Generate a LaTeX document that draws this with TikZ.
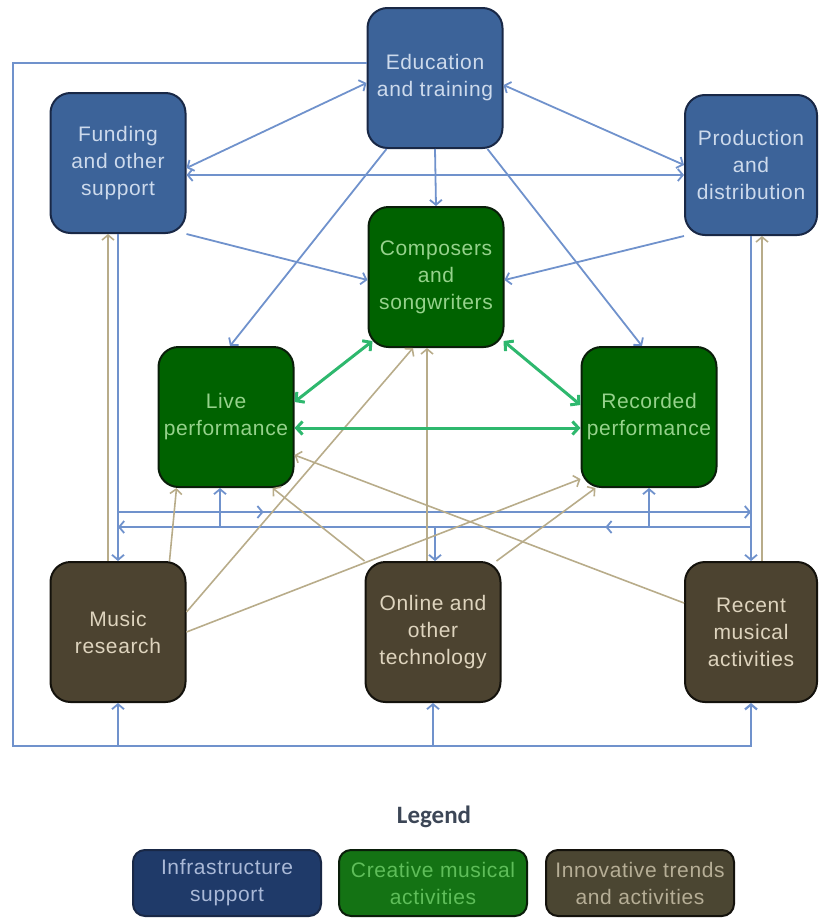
\documentclass[tikz,border=0pt]{standalone}
\usepackage{fontspec}
\setmainfont{Liberation Sans}[LetterSpace=3]
\newfontfamily\keyfont{Carlito}
\usetikzlibrary{arrows.meta,decorations.markings}
\definecolor{infline}{RGB}{112,146,204}
\definecolor{trdline}{RGB}{184,172,138}
\definecolor{creline}{RGB}{46,184,110}
\definecolor{inffill}{RGB}{60,99,153}
\definecolor{infdraw}{RGB}{25,40,70}
\definecolor{inftext}{RGB}{205,218,236}
\definecolor{crefill}{RGB}{0,98,0}
\definecolor{credraw}{RGB}{10,30,10}
\definecolor{cretext}{RGB}{150,210,140}
\definecolor{trdfill}{RGB}{76,67,48}
\definecolor{trddraw}{RGB}{20,18,12}
\definecolor{trdtext}{RGB}{222,212,190}

\begin{document}
\begin{tikzpicture}[x=1pt,y=-1pt,>={Straight Barb[length=5pt,width=12pt]},
  box/.style={draw,line width=2pt,rounded corners=20pt,minimum width=135pt,
    minimum height=140pt,align=center,font=\fontsize{21}{27}\selectfont},
  infbox/.style={box,fill=inffill,draw=infdraw,text=inftext},
  crebox/.style={box,fill=crefill,draw=credraw,text=cretext},
  trdbox/.style={box,fill=trdfill,draw=trddraw,text=trdtext},
  keybox/.style={box,rounded corners=12pt,minimum width=188pt,minimum height=66pt},
  infra/.style={draw=infline,line width=1.8pt},
  trend/.style={draw=trdline,line width=1.6pt},
  creative/.style={draw=creline,line width=3pt,
    arrows={Straight Barb[length=6pt,width=13pt]-Straight Barb[length=6pt,width=13pt]}},
  flow/.style={postaction=decorate,decoration={
      markings,mark=at position .23 with {\arrow{#1}}
    }}]
  \useasboundingbox (0,0) rectangle (819,918);
  \node[infbox] (edu) at (435,78) {Education\\and training};
  \node[infbox] (fund) at (118,163) {Funding\\and other\\support};
  \node[infbox,minimum width=132pt] (prod) at (751,165) {Production\\and\\distribution};
  \node[crebox] (comp) at (436,277) {Composers\\and\\songwriters};
  \node[crebox] (live) at (226,417) {Live\\performance};
  \node[crebox] (rec) at (649,417) {Recorded\\performance};
  \node[trdbox] (res) at (118,632) {Music\\research};
  \node[trdbox] (onl) at (433,632) {Online and\\other\\technology};
  \node[trdbox,minimum width=132pt] (rcnt) at (751,632) {Recent\\musical\\activities};
  % infrastructure links
  \coordinate (frameL) at (13,746);
  \draw[infra,line width=2.2pt,->] ([yshift=15pt]edu.west) -| (frameL) -| (rcnt.south);
  \draw[infra,->] (res.south |- frameL) -- (res.south);
  \draw[infra,->] (onl.south |- frameL) -- (onl.south);
  \draw[infra,<->] ([yshift=-5pt]fund.east) -- ([yshift=-5pt]edu.west);
  \draw[infra,<->] ([yshift=-12pt]fund.east) -- ([yshift=-12pt]fund.east -| prod.west);
  \draw[infra,<->] ([yshift=-7pt]edu.east) -- (prod.west);
  \draw[infra,->] (edu.south) -- (comp.north);
  \draw[infra,->] ([xshift=20pt]edu.south west) -- ([xshift=4pt]live.north);
  \draw[infra,->] ([xshift=-16pt]edu.south east) -- ([xshift=-7pt]rec.north);
  \draw[infra,->] (fund.south east) -- ([yshift=-3pt]comp.west);
  \draw[infra,->] (prod.south west) -- ([yshift=-3pt]comp.east);
  \draw[infra,->] (fund.south) -- (res.north);
  \draw[infra,->] (prod.south) -- (prod.south |- rcnt.north);
  \coordinate (upL) at (118,512);
  \coordinate (upR) at (751,512);
  \coordinate (loL) at (118,527);
  \coordinate (loR) at (751,527);
  \draw[infra,->,flow=>] (upL) -- (upR);
  \draw[infra,->,flow=>] (loR) -- (loL);
  \draw[infra,->] ([xshift=-6pt]live.south |- loL) -- ([xshift=-6pt]live.south);
  \draw[infra,->] (rec.south |- loL) -- (rec.south);
  \draw[infra,->] ([xshift=2pt]onl.north |- loL) -- ([xshift=2pt]onl.north);
  % trends
  \draw[trend,->] ([xshift=-10pt]res.north) -- ([xshift=-10pt]fund.south);
  \draw[trend,->] ([xshift=11pt]rcnt.north) -- ([xshift=11pt]rcnt.north |- prod.south);
  \draw[trend,->] ([xshift=-17pt]res.north east) -- ([xshift=19pt]live.south west);
  \draw[trend,->] ([yshift=20pt]res.east) -- ([xshift=-23pt]comp.south);
  \draw[trend,->] (res.east) -- ([yshift=9pt]rec.south west);
  \draw[trend,->] (onl.north west) -- ([xshift=-22pt]live.south east);
  \draw[trend,->] ([xshift=-6pt]onl.north) -- ([xshift=-6pt]onl.north |- comp.south);
  \draw[trend,->] ([xshift=-5pt]onl.north east) -- ([xshift=15pt]rec.south west);
  \draw[trend,->] ([yshift=29pt]rcnt.west) -- ([yshift=-38pt]live.east);
  % creative
  \draw[creative] ([yshift=15pt]live.east) -- ([xshift=5pt,yshift=7pt]comp.south west);
  \draw[creative] ([xshift=-1pt,yshift=7pt]comp.south east) -- ([yshift=12pt]rec.west);
  \draw[creative] ([yshift=-11pt]live.east) -- ([yshift=-11pt]live.east -| rec.west);
  % legend
  \node[font=\keyfont\bfseries\fontsize{25}{30}\selectfont,text={rgb,255:red,60;green,70;blue,86}]
    (key) at (434,817) {Legend};
  \node[keybox,fill={rgb,255:red,31;green,58;blue,105},draw=infdraw,
    text={rgb,255:red,170;green,185;blue,215}] (keyinf) at (227,883) {Infrastructure\\support};
  \node[keybox,fill={rgb,255:red,20;green,115;blue,20},draw=credraw,
    text={rgb,255:red,95;green,190;blue,90}] (keycre) at (433,883) {Creative musical\\activities};
  \node[keybox,fill={rgb,255:red,75;green,70;blue,50},draw=trddraw,
    text={rgb,255:red,182;green,174;blue,150}] (keytrd) at (640,883) {Innovative trends\\and activities};
\end{tikzpicture}
\end{document}
